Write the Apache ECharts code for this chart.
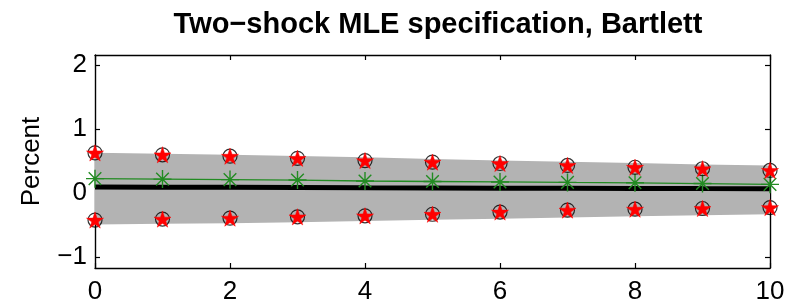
<!DOCTYPE html>
<html>
<head>
<meta charset="utf-8">
<script src="https://cdn.jsdelivr.net/npm/echarts@6/dist/echarts.min.js"></script>
<style>html,body{margin:0;padding:0;background:#fff}#c{width:788px;height:305px}</style>
</head>
<body>
<div id="c"></div>
<script>
var titleText = 'Two\u2212shock MLE specification, Bartlett';
var yName = 'Percent';
var horizons = [0, 1, 2, 3, 4, 5, 6, 7, 8, 9, 10];
var xTicks = [0, 2, 4, 6, 8, 10];
var yTicks = [-1, 0, 1, 2];
var pointEstimate = [0.097, 0.094, 0.091, 0.087, 0.083, 0.08, 0.077, 0.075, 0.073, 0.071, 0.07];
var altEstimate = [0.227, 0.22, 0.212, 0.205, 0.19, 0.182, 0.175, 0.168, 0.162, 0.15, 0.138];
var bandUpper = [0.63, 0.615, 0.6, 0.58, 0.56, 0.535, 0.51, 0.49, 0.47, 0.45, 0.433];
var bandLower = [-0.49, -0.48, -0.47, -0.455, -0.435, -0.415, -0.4, -0.38, -0.36, -0.345, -0.33];
var upperMarks = [0.63, 0.6, 0.578, 0.545, 0.51, 0.485, 0.464, 0.433, 0.405, 0.382, 0.355];
var lowerMarks = [-0.42, -0.405, -0.39, -0.37, -0.354, -0.33, -0.295, -0.265, -0.25, -0.24, -0.225];

function pairs(v) { return horizons.map(function (h, i) { return [h, v[i]]; }); }
var bandData = horizons.map(function (h, i) { return [h, bandLower[i], bandUpper[i]]; });

var starPath = 'path://M0,-1L0.2245,-0.309L0.951,-0.309L0.363,0.118L0.588,0.809L0,0.382L-0.588,0.809L-0.363,0.118L-0.951,-0.309L-0.2245,-0.309Z';
var asteriskPath = 'path://M0,-1L0,1M-1,0L1,0M-0.7,-0.7L0.7,0.7M-0.7,0.7L0.7,-0.7';
var FONT = 'Liberation Sans, Arial, Helvetica, sans-serif';
var fmt = function (v) { return String(v).replace('-', '\u2212'); };

var chart = echarts.init(document.getElementById('c'), null, {renderer: 'canvas'});
var xMin = 0, xMax = 10, yMin = -1.17, yMax = 2.16;
var baseAxisLine = {show: true, onZero: false, lineStyle: {color: '#000', width: 1.4}};
chart.setOption({
  animation: false,
  title: {
    text: titleText, left: 433, top: 5, textAlign: 'center',
    textStyle: {fontFamily: FONT, fontWeight: 'bold', fontSize: 29, color: '#000'}
  },
  grid: {left: 95, right: 18, top: 55, bottom: 36},
  xAxis: [{
    type: 'value', min: xMin, max: xMax, position: 'bottom',
    axisLine: baseAxisLine,
    axisTick: {inside: true, length: 5, customValues: xTicks, lineStyle: {color: '#000', width: 1.2}},
    axisLabel: {customValues: xTicks, margin: 11, fontFamily: FONT, fontSize: 26, color: '#000', formatter: fmt},
    splitLine: {show: false}
  }, {
    type: 'value', min: xMin, max: xMax, position: 'top',
    axisLine: baseAxisLine,
    axisTick: {inside: true, length: 5, customValues: xTicks, lineStyle: {color: '#000', width: 1.2}},
    axisLabel: {show: false},
    splitLine: {show: false}
  }],
  yAxis: [{
    type: 'value', min: yMin, max: yMax, position: 'left',
    name: yName, nameLocation: 'middle', nameRotate: 90, nameGap: 50,
    nameTextStyle: {fontFamily: FONT, fontSize: 26, color: '#000'},
    axisLine: baseAxisLine,
    axisTick: {inside: true, length: 5, customValues: yTicks, lineStyle: {color: '#000', width: 1.2}},
    axisLabel: {customValues: yTicks, margin: 8, fontFamily: FONT, fontSize: 26, color: '#000', formatter: fmt},
    splitLine: {show: false}
  }, {
    type: 'value', min: yMin, max: yMax, position: 'right',
    axisLine: baseAxisLine,
    axisTick: {inside: true, length: 5, customValues: yTicks, lineStyle: {color: '#000', width: 1.2}},
    axisLabel: {show: false},
    splitLine: {show: false}
  }],
  series: [
    {
      type: 'custom', data: bandData, silent: true, z: 1,
      encode: {x: 0, y: [1, 2]},
      renderItem: function (params, api) {
        if (params.dataIndex !== 0) return null;
        var top = [], bot = [];
        for (var i = 0; i < bandData.length; i++) {
          top.push(api.coord([bandData[i][0], bandData[i][2]]));
          bot.unshift(api.coord([bandData[i][0], bandData[i][1]]));
        }
        return {type: 'polygon', shape: {points: top.concat(bot)}, style: {fill: '#b3b3b3'}};
      }
    },
    {
      type: 'line', data: pairs(pointEstimate), symbol: 'none',
      lineStyle: {color: '#000', width: 5}, z: 2
    },
    {
      type: 'line', data: pairs(altEstimate), symbol: asteriskPath, symbolSize: 18,
      lineStyle: {color: '#228B22', width: 1.3},
      itemStyle: {color: 'rgba(0,0,0,0)', borderColor: '#228B22', borderWidth: 1.4}, z: 3
    },
    {
      type: 'scatter', data: pairs(upperMarks).concat(pairs(lowerMarks)), symbol: 'circle', symbolSize: 14,
      itemStyle: {color: 'rgba(0,0,0,0)', borderColor: '#000', borderWidth: 1.2}, z: 4
    },
    {
      type: 'scatter', data: pairs(upperMarks).concat(pairs(lowerMarks)), symbol: starPath, symbolKeepAspect: true, symbolSize: 17,
      itemStyle: {color: '#ff0000', borderColor: '#ff0000', borderWidth: 0.5, opacity: 1}, z: 5
    }
  ]
});
</script>
</body>
</html>
